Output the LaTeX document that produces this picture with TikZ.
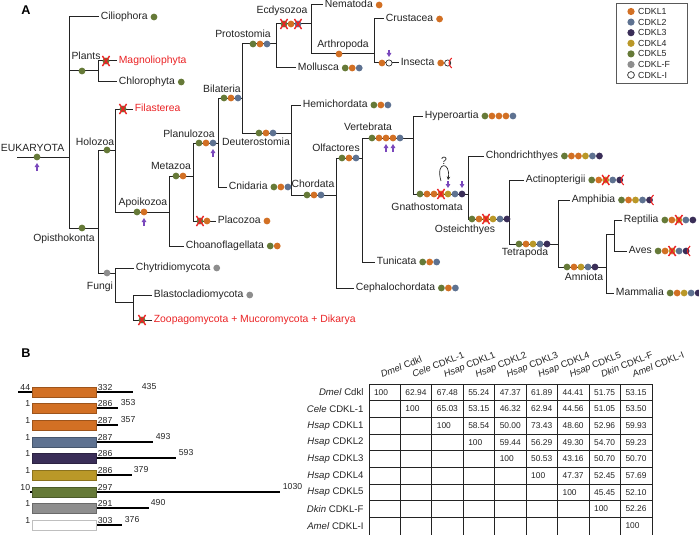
\documentclass[tikz,border=0pt]{standalone}
\usepackage{fontspec}
\setmainfont{Liberation Sans}
\usetikzlibrary{arrows.meta,calc}

\definecolor{cdkone}{RGB}{210,112,36}
\definecolor{cdktwo}{RGB}{94,114,145}
\definecolor{cdkthree}{RGB}{58,46,88}
\definecolor{cdkfour}{RGB}{186,152,40}
\definecolor{cdkfive}{RGB}{102,122,56}
\definecolor{cdkf}{RGB}{142,142,142}
\definecolor{lossred}{RGB}{234,34,36}
\definecolor{dupviolet}{RGB}{122,72,188}
\definecolor{ink}{RGB}{35,35,35}

\tikzset{every picture/.style={line width=0.75pt}}
\tikzset{
  branch/.style={draw=ink, line width=0.75pt},
  taxon/.style={font=\fontsize{7.8}{9}\selectfont, text=ink, inner sep=1pt, anchor=west, text height=5.6pt, text depth=1.6pt},
  lostaxon/.style={taxon, text=lossred},
  clade/.style={font=\fontsize{7.8}{9}\selectfont, text=ink, inner sep=0pt},
  gene/.style={fill=#1},
  opengene/.style={fill=white, draw=ink, line width=0.5pt},
  lossx/.style={draw=lossred, line width=1.1pt},
  dup/.style={draw=dupviolet, line width=1.1pt, -{Triangle[length=3pt,width=3.4pt]}},
  panel/.style={font=\bfseries\fontsize{9.5}{11}\selectfont, inner sep=0pt},
  legendtxt/.style={font=\fontsize{6.6}{7}\selectfont, text=ink, inner sep=0.5pt, anchor=west},
  dombar/.style={fill=#1, draw=#1!75!black, line width=0.4pt},
  cds/.style={draw=black, line width=1.8pt},
  aanum/.style={font=\fontsize{6.5}{7}\selectfont, text=ink, inner sep=0.3pt},
  cellv/.style={font=\fontsize{6.3}{7}\selectfont, text=ink, inner sep=0pt, anchor=west},
  rowname/.style={font=\fontsize{7.2}{8}\selectfont, text=ink, inner sep=0pt, anchor=east},
  colname/.style={font=\fontsize{7}{8}\selectfont, text=ink, inner sep=0pt, anchor=base west, rotate=22},
  tabline/.style={draw=ink, line width=0.6pt}
}

% gene dots on a branch: x, y, colours
\newcommand{\genes}[3]{\foreach \gcol [count=\gk from 0] in {#3}{\path[gene=\gcol] ({#1+7*\gk},#2) circle [radius=3.4];}}
% gene dots after a taxon name
\newcommand{\leafgenes}[2]{\foreach \gcol [count=\gk from 0] in {#2}{\path[gene=\gcol] ($(#1.east)+({4.5+7*\gk},0)$) circle [radius=3.4];}}
\newcommand{\opendot}[1]{\path[opengene] #1 circle [radius=3.1];}
\newcommand{\lossat}[1]{\draw[lossx] #1 ++(-3.6,-5) -- ++(7.2,10) #1 ++(-3.6,5) -- ++(7.2,-10);}
\newcommand{\lossedge}[1]{\draw[lossx, line width=0.8pt] #1 ++(4,-5) .. controls +(-3.5,3) and +(-3.5,-3) .. ++(0,10);}
\newcommand{\dupup}[2]{\draw[dup] (#1,{#2+14}) -- (#1,{#2+6});}
\newcommand{\dupdown}[2]{\draw[dup] (#1,{#2-13}) -- (#1,{#2-6});}

\begin{document}
\begin{tikzpicture}[x=0.75pt,y=0.75pt,yscale=-1,xscale=1]
\useasboundingbox (0,0) rectangle (699,535);

% Panel labels
\node[panel] (pA) at (26,10) {A};
\node[panel] (pB) at (26,353) {B};

% Leaves
\node[taxon] (cil) at (99,17) {Ciliophora};
\node[lostaxon] (mag) at (117,61) {Magnoliophyta};
\node[taxon] (chl) at (117,82) {Chlorophyta};
\node[lostaxon] (fil) at (133,109) {Filasterea};
\node[taxon] (cho) at (184,246) {Choanoflagellata};
\node[taxon] (pla) at (216,221) {Placozoa};
\node[taxon] (cni) at (227,187) {Cnidaria};
\node[taxon] (nem) at (323,5) {Nematoda};
\node[taxon] (cru) at (384,19) {Crustacea};
\node[taxon] (ins) at (399,63) {Insecta};
\node[taxon] (mol) at (296,68) {Mollusca};
\node[taxon] (hem) at (301,105) {Hemichordata};
\node[taxon] (tun) at (375,262) {Tunicata};
\node[taxon] (cep) at (354,288) {Cephalochordata};
\node[taxon] (hyp) at (423,116) {Hyperoartia};
\node[taxon] (chd) at (484,156) {Chondrichthyes};
\node[taxon] (act) at (524,180) {Actinopterigii};
\node[taxon] (amp) at (570,200) {Amphibia};
\node[taxon] (rep) at (622,220) {Reptilia};
\node[taxon] (ave) at (627,251) {Aves};
\node[taxon] (mam) at (614,293) {Mammalia};
\node[taxon] (chy) at (134,268) {Chytridiomycota};
\node[taxon] (bla) at (152,295) {Blastocladiomycota};
\node[lostaxon] (zoo) at (152,320) {Zoopagomycota + Mucoromycota + Dikarya};

% Inner nodes
\coordinate (root) at (17,157);
\coordinate (euk) at (69,157);
\coordinate (plt) at (98,71);
\coordinate (opi) at (98,228);
\coordinate (hol) at (115,150);
\coordinate (apo) at (169,212);
\coordinate (met) at (193,176);
\coordinate (pln) at (218,143);
\coordinate (bil) at (242,98);
\coordinate (pro) at (276,44);
\coordinate (ecd) at (311,24);
\coordinate (art) at (374,54);
\coordinate (deu) at (291,133);
\coordinate (chr) at (336,195);
\coordinate (olf) at (362,158);
\coordinate (ver) at (413,138);
\coordinate (gna) at (468,194);
\coordinate (ost) at (509,219);
\coordinate (tet) at (558,244);
\coordinate (amn) at (606,267);
\coordinate (sau) at (614,234);
\coordinate (fun) at (115,273);
\coordinate (fsb) at (133,302);

% Branches
\draw[branch] (root) -- (euk);
\foreach \pa/\ch in {euk/cil.west, euk/plt, euk/opi, plt/mag.west, plt/chl.west,
  opi/hol, opi/fun, hol/fil.west, hol/apo, apo/met, apo/cho.west, met/pln, met/pla.west,
  pln/bil, pln/cni.west, bil/pro, bil/deu, pro/ecd, pro/mol.west, ecd/nem.west, ecd/art,
  art/cru.west, art/ins.west, deu/hem.west, deu/chr, chr/olf, chr/cep.west, olf/ver, olf/tun.west,
  ver/hyp.west, ver/gna, gna/chd.west, gna/ost, ost/act.west, ost/tet, tet/amp.west, tet/amn,
  amn/sau, amn/mam.west, sau/rep.west, sau/ave.west, fun/chy.west, fun/fsb, fsb/bla.west, fsb/zoo.west}
  \draw[branch] (\pa) |- (\ch);

% Clade names
\node[clade, anchor=west] (tEuk) at (0.5,148) {EUKARYOTA};
\node[clade] (tPlt) at (86,56) {Plants};
\node[clade] (tHol) at (95,142) {Holozoa};
\node[clade] (tOpi) at (64,239) {Opisthokonta};
\node[clade] (tApo) at (143,203) {Apoikozoa};
\node[clade] (tMet) at (171,166) {Metazoa};
\node[clade] (tPln) at (189,134) {Planulozoa};
\node[clade] (tBil) at (222,89) {Bilateria};
\node[clade] (tPro) at (243,34) {Protostomia};
\node[clade] (tEcd) at (282,11) {Ecdysozoa};
\node[clade] (tArt) at (343,45) {Arthropoda};
\node[clade] (tDeu) at (256,142) {Deuterostomia};
\node[clade] (tChr) at (313,184) {Chordata};
\node[clade] (tOlf) at (336,148) {Olfactores};
\node[clade] (tVer) at (368,127) {Vertebrata};
\node[clade] (tGna) at (427,207) {Gnathostomata};
\node[clade] (tOst) at (465,230) {Osteichthyes};
\node[clade] (tTet) at (525,253) {Tetrapoda};
\node[clade] (tAmn) at (584,277) {Amniota};
\node[clade] (tFun) at (100,287) {Fungi};

% Genes on branches
\genes{37}{157}{cdkfive} \dupup{37}{157}
\genes{82}{71}{cdkfive}
\genes{106}{61}{cdkfive} \lossat{(106,61)}
\genes{107}{150}{cdkfive}
\genes{123}{109}{cdkfive} \lossat{(123,109)}
\genes{82}{228}{cdkfive}
\genes{107}{273}{cdkf}
\genes{142}{320}{cdkfive} \lossat{(142,320)}
\genes{137}{212}{cdkfive,cdkone} \dupup{144}{212}
\genes{176}{176}{cdkfive,cdkone}
\genes{200}{221}{cdkfive,cdkone} \lossat{(200,221)}
\genes{199}{143}{cdkfive,cdkone,cdktwo} \dupup{213}{143}
\genes{224}{98}{cdkfive,cdkone,cdktwo}
\genes{253}{44}{cdkfive,cdkone,cdktwo}
\genes{284}{24}{cdkfive,cdkone,cdktwo} \lossat{(284,24)} \lossat{(298,24)}
\genes{339}{54}{cdkone}
\genes{382}{63}{cdkone} \opendot{(389,63)} \dupdown{389}{63}
\genes{259}{133}{cdkfive,cdkone,cdktwo}
\genes{307}{195}{cdkfive,cdkone,cdktwo}
\genes{342}{158}{cdkfive,cdkone,cdktwo}
\genes{372}{138}{cdkfive,cdkone,cdkone,cdkone,cdktwo} \dupup{386}{138} \dupup{393}{138}
\genes{420}{194}{cdkfive,cdkone,cdkone,cdkone,cdkfour,cdktwo,cdkthree} \lossat{(441,194)}
\dupdown{448}{194} \dupdown{462}{194}
\draw[ink, line width=0.5pt, -{Stealth[length=2.6pt,width=2.6pt]}] (441,181) .. controls (435,161) and (451,161) .. (448,180);
\node[clade] (qmark) at (444,161) {?};
\genes{472}{219}{cdkfive,cdkone,cdkone,cdkfour,cdktwo,cdkthree} \lossat{(486,219)}
\genes{519}{244}{cdkfive,cdkone,cdkfour,cdktwo,cdkthree}
\genes{567}{267}{cdkfive,cdkone,cdkfour,cdktwo,cdkthree}

% Genes after taxa
\leafgenes{cil}{cdkfive}
\leafgenes{chl}{cdkfive}
\leafgenes{cho}{cdkfive,cdkone}
\leafgenes{pla}{cdkone}
\leafgenes{cni}{cdkfive,cdkone,cdktwo}
\leafgenes{nem}{cdkone}
\leafgenes{cru}{cdkone}
\leafgenes{ins}{cdkone} \opendot{($(ins.east)+(11.5,0)$)} \lossedge{($(ins.east)+(11.5,0)$)}
\leafgenes{mol}{cdkfive,cdkone,cdktwo}
\leafgenes{hem}{cdkfive,cdkone,cdktwo}
\leafgenes{tun}{cdkfive,cdkone,cdktwo}
\leafgenes{cep}{cdkfive,cdkone,cdktwo}
\leafgenes{hyp}{cdkfive,cdkone,cdkone,cdkone,cdktwo}
\leafgenes{chd}{cdkfive,cdkone,cdkone,cdkfour,cdktwo,cdkthree}
\leafgenes{act}{cdkfive,cdkone,cdkfour,cdktwo,cdkthree} \lossat{($(act.east)+(18.5,0)$)} \lossedge{($(act.east)+(32.5,0)$)}
\leafgenes{amp}{cdkfive,cdkone,cdkfour,cdktwo,cdkthree} \lossedge{($(amp.east)+(32.5,0)$)}
\leafgenes{rep}{cdkfive,cdkone,cdkfour,cdktwo,cdkthree} \lossat{($(rep.east)+(18.5,0)$)}
\leafgenes{ave}{cdkfive,cdkone,cdkfour,cdktwo,cdkthree} \lossat{($(ave.east)+(18.5,0)$)} \lossedge{($(ave.east)+(32.5,0)$)}
\leafgenes{mam}{cdkfive,cdkone,cdkfour,cdktwo,cdkthree}
\leafgenes{chy}{cdkf}
\leafgenes{bla}{cdkf}

% Legend
\draw[draw=black!65, line width=0.6pt] (616,3) rectangle (687,83);
\foreach \gcol/\gname [count=\lk from 0] in {cdkone/CDKL1, cdktwo/CDKL2, cdkthree/CDKL3, cdkfour/CDKL4, cdkfive/CDKL5, cdkf/CDKL-F}{
  \path[gene=\gcol] (631,{11.5+10.6*\lk}) circle [radius=3.6];
  \node[legendtxt] (lg\lk) at (637,{11.5+10.6*\lk}) {\gname};
}
\path[opengene] (631,75) circle [radius=3.4];
\node[legendtxt] (lg6) at (637,75) {CDKL-I};

% Panel B: protein bars
\foreach \yb/\xs/\xe/\col/\sa/\da/\ta/\tx in {392/18/133/cdkone/44/332/435/141, 408/32/118/cdkone/1/286/353/120,
  425/32/118/cdkone/1/287/357/120, 442/32/153/cdktwo/1/287/493/155, 458/32/176/cdkthree/1/286/593/178,
  475/32/132/cdkfour/1/286/379/133, 492/30/280/cdkfive/10/297/1030/282, 508/32/149/cdkf/1/291/490/150,
  525/32/122/white/1/303/376/124}{
  \draw[cds] (\xs,\yb) -- (\xe,\yb);
  \path[dombar=\col] (32,{\yb-5}) rectangle (96,{\yb+5});
  \node[aanum, anchor=south east] (s\yb) at (31,{\yb-0.5}) {\sa};
  \node[aanum, anchor=south west] (d\yb) at (97,{\yb-1}) {\da};
  \node[aanum, anchor=south west] (t\yb) at (\tx,{\yb-1.5}) {\ta};
}

% Panel B: identity table
\foreach \kk in {0,...,9} \draw[tabline] ({369+31.44*\kk},384) -- ({369+31.44*\kk},535);
\foreach \kk in {0,...,8} \draw[tabline] (369,{384+16.67*\kk}) -- (652,{384+16.67*\kk});
\foreach \sp/\gn [count=\ri from 0] in {Dmel/Cdkl, Cele/CDKL-1, Hsap/CDKL1, Hsap/CDKL2, Hsap/CDKL3,
  Hsap/CDKL4, Hsap/CDKL5, Dkin/CDKL-F, Amel/CDKL-I}{
  \node[rowname] (row\ri) at (364,{392.3+16.67*\ri}) {\textit{\sp} \gn};
  \node[colname] (col\ri) at ({369+31.44*\ri+13},378) {\textit{\sp} \gn};
}
\foreach \vals [count=\ri from 0] in {{100,62.94,67.48,55.24,47.37,61.89,44.41,51.75,53.15},
  {100,65.03,53.15,46.32,62.94,44.56,51.05,53.50}, {100,58.54,50.00,73.43,48.60,52.96,59.93},
  {100,59.44,56.29,49.30,54.70,59.23}, {100,50.53,43.16,50.70,50.70}, {100,47.37,52.45,57.69},
  {100,45.45,52.10}, {100,52.26}, {100}}{
  \foreach \val [count=\ci from \ri] in \vals
    \node[cellv] (v\ri-\ci) at ({369+31.44*\ci+4.5},{392.3+16.67*\ri}) {\val};
}

\end{tikzpicture}
\end{document}
